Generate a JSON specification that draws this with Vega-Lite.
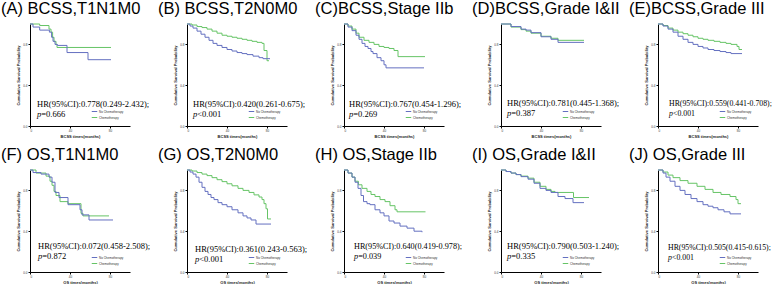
{
"$schema":"https://vega.github.io/schema/vega-lite/v6.json",
"background":"white",
"padding":{"left":1,"top":0,"right":2,"bottom":0},
"bounds":"flush",
"columns":5,
"spacing":{"column":57,"row":44},
"resolve":{"legend":{"color":"independent"}},
"datasets":{
"stats":[
{"p":"A","hr":"HR(95%CI):0.778(0.249-2.432);","pv":"=0.666"},
{"p":"B","hr":"HR(95%CI):0.420(0.261-0.675);","pv":"<0.001"},
{"p":"C","hr":"HR(95%CI):0.767(0.454-1.296);","pv":"=0.269"},
{"p":"D","hr":"HR(95%CI):0.781(0.445-1.368);","pv":"=0.387"},
{"p":"E","hr":"HR(95%CI):0.559(0.441-0.708);","pv":"<0.001"},
{"p":"F","hr":"HR(95%CI):0.072(0.458-2.508);","pv":"=0.872"},
{"p":"G","hr":"HR(95%CI):0.361(0.243-0.563);","pv":"<0.001"},
{"p":"H","hr":"HR(95%CI):0.640(0.419-0.978);","pv":"=0.039"},
{"p":"I","hr":"HR(95%CI):0.790(0.503-1.240);","pv":"=0.335"},
{"p":"J","hr":"HR(95%CI):0.505(0.415-0.615);","pv":"<0.001"}
],
"km":[
{"p":"A","g":"Chemotherapy","t":0,"s":1},{"p":"A","g":"Chemotherapy","t":9.7,"s":0.985},{"p":"A","g":"Chemotherapy","t":19,"s":0.95},{"p":"A","g":"Chemotherapy","t":21,"s":0.92},{"p":"A","g":"Chemotherapy","t":22.6,"s":0.87},{"p":"A","g":"Chemotherapy","t":24,"s":0.83},{"p":"A","g":"Chemotherapy","t":26,"s":0.8},{"p":"A","g":"Chemotherapy","t":27,"s":0.77},{"p":"A","g":"Chemotherapy","t":81,"s":0.77},
{"p":"A","g":"No Chemotherapy","t":0,"s":1},{"p":"A","g":"No Chemotherapy","t":3,"s":0.97},{"p":"A","g":"No Chemotherapy","t":9.7,"s":0.94},{"p":"A","g":"No Chemotherapy","t":19.4,"s":0.92},{"p":"A","g":"No Chemotherapy","t":21.6,"s":0.87},{"p":"A","g":"No Chemotherapy","t":23,"s":0.83},{"p":"A","g":"No Chemotherapy","t":25,"s":0.8},{"p":"A","g":"No Chemotherapy","t":27.4,"s":0.79},{"p":"A","g":"No Chemotherapy","t":37,"s":0.72},{"p":"A","g":"No Chemotherapy","t":58,"s":0.65},{"p":"A","g":"No Chemotherapy","t":81,"s":0.65},

{"p":"B","g":"Chemotherapy","t":0,"s":1},{"p":"B","g":"Chemotherapy","t":5,"s":0.99},{"p":"B","g":"Chemotherapy","t":10,"s":0.975},{"p":"B","g":"Chemotherapy","t":15,"s":0.965},{"p":"B","g":"Chemotherapy","t":20,"s":0.95},{"p":"B","g":"Chemotherapy","t":25,"s":0.93},{"p":"B","g":"Chemotherapy","t":30,"s":0.91},{"p":"B","g":"Chemotherapy","t":35,"s":0.89},{"p":"B","g":"Chemotherapy","t":40,"s":0.88},{"p":"B","g":"Chemotherapy","t":45,"s":0.87},{"p":"B","g":"Chemotherapy","t":50,"s":0.86},{"p":"B","g":"Chemotherapy","t":55,"s":0.85},{"p":"B","g":"Chemotherapy","t":60,"s":0.84},{"p":"B","g":"Chemotherapy","t":65,"s":0.83},{"p":"B","g":"Chemotherapy","t":70,"s":0.82},{"p":"B","g":"Chemotherapy","t":75,"s":0.81},{"p":"B","g":"Chemotherapy","t":77,"s":0.74},{"p":"B","g":"Chemotherapy","t":80,"s":0.64},{"p":"B","g":"Chemotherapy","t":82,"s":0.64},
{"p":"B","g":"No Chemotherapy","t":0,"s":1},{"p":"B","g":"No Chemotherapy","t":3,"s":0.98},{"p":"B","g":"No Chemotherapy","t":6,"s":0.96},{"p":"B","g":"No Chemotherapy","t":10,"s":0.93},{"p":"B","g":"No Chemotherapy","t":14,"s":0.9},{"p":"B","g":"No Chemotherapy","t":18,"s":0.87},{"p":"B","g":"No Chemotherapy","t":22,"s":0.84},{"p":"B","g":"No Chemotherapy","t":26,"s":0.81},{"p":"B","g":"No Chemotherapy","t":30,"s":0.79},{"p":"B","g":"No Chemotherapy","t":35,"s":0.77},{"p":"B","g":"No Chemotherapy","t":40,"s":0.75},{"p":"B","g":"No Chemotherapy","t":45,"s":0.735},{"p":"B","g":"No Chemotherapy","t":50,"s":0.72},{"p":"B","g":"No Chemotherapy","t":55,"s":0.71},{"p":"B","g":"No Chemotherapy","t":60,"s":0.7},{"p":"B","g":"No Chemotherapy","t":66,"s":0.685},{"p":"B","g":"No Chemotherapy","t":72,"s":0.67},{"p":"B","g":"No Chemotherapy","t":76,"s":0.66},{"p":"B","g":"No Chemotherapy","t":83,"s":0.66},

{"p":"C","g":"Chemotherapy","t":0,"s":1},{"p":"C","g":"Chemotherapy","t":4,"s":0.98},{"p":"C","g":"Chemotherapy","t":8,"s":0.95},{"p":"C","g":"Chemotherapy","t":12,"s":0.91},{"p":"C","g":"Chemotherapy","t":15,"s":0.87},{"p":"C","g":"Chemotherapy","t":20,"s":0.84},{"p":"C","g":"Chemotherapy","t":25,"s":0.82},{"p":"C","g":"Chemotherapy","t":30,"s":0.8},{"p":"C","g":"Chemotherapy","t":35,"s":0.78},{"p":"C","g":"Chemotherapy","t":40,"s":0.77},{"p":"C","g":"Chemotherapy","t":45,"s":0.76},{"p":"C","g":"Chemotherapy","t":50,"s":0.74},{"p":"C","g":"Chemotherapy","t":54,"s":0.68},{"p":"C","g":"Chemotherapy","t":81,"s":0.68},
{"p":"C","g":"No Chemotherapy","t":0,"s":1},{"p":"C","g":"No Chemotherapy","t":4,"s":0.97},{"p":"C","g":"No Chemotherapy","t":8,"s":0.935},{"p":"C","g":"No Chemotherapy","t":12,"s":0.89},{"p":"C","g":"No Chemotherapy","t":15,"s":0.85},{"p":"C","g":"No Chemotherapy","t":18,"s":0.81},{"p":"C","g":"No Chemotherapy","t":21,"s":0.78},{"p":"C","g":"No Chemotherapy","t":24,"s":0.76},{"p":"C","g":"No Chemotherapy","t":27,"s":0.73},{"p":"C","g":"No Chemotherapy","t":29,"s":0.71},{"p":"C","g":"No Chemotherapy","t":33,"s":0.67},{"p":"C","g":"No Chemotherapy","t":37,"s":0.64},{"p":"C","g":"No Chemotherapy","t":40,"s":0.6},{"p":"C","g":"No Chemotherapy","t":42,"s":0.57},{"p":"C","g":"No Chemotherapy","t":80,"s":0.57},

{"p":"D","g":"Chemotherapy","t":0,"s":1},{"p":"D","g":"Chemotherapy","t":10,"s":0.97},{"p":"D","g":"Chemotherapy","t":20,"s":0.945},{"p":"D","g":"Chemotherapy","t":25,"s":0.93},{"p":"D","g":"Chemotherapy","t":30,"s":0.91},{"p":"D","g":"Chemotherapy","t":40,"s":0.88},{"p":"D","g":"Chemotherapy","t":50,"s":0.86},{"p":"D","g":"Chemotherapy","t":57,"s":0.84},{"p":"D","g":"Chemotherapy","t":83,"s":0.84},
{"p":"D","g":"No Chemotherapy","t":0,"s":1},{"p":"D","g":"No Chemotherapy","t":10,"s":0.975},{"p":"D","g":"No Chemotherapy","t":20,"s":0.95},{"p":"D","g":"No Chemotherapy","t":25,"s":0.94},{"p":"D","g":"No Chemotherapy","t":30,"s":0.915},{"p":"D","g":"No Chemotherapy","t":40,"s":0.875},{"p":"D","g":"No Chemotherapy","t":50,"s":0.85},{"p":"D","g":"No Chemotherapy","t":57,"s":0.82},{"p":"D","g":"No Chemotherapy","t":83,"s":0.82},

{"p":"E","g":"Chemotherapy","t":0,"s":1},{"p":"E","g":"Chemotherapy","t":5,"s":0.985},{"p":"E","g":"Chemotherapy","t":10,"s":0.96},{"p":"E","g":"Chemotherapy","t":15,"s":0.94},{"p":"E","g":"Chemotherapy","t":20,"s":0.92},{"p":"E","g":"Chemotherapy","t":25,"s":0.905},{"p":"E","g":"Chemotherapy","t":30,"s":0.89},{"p":"E","g":"Chemotherapy","t":35,"s":0.875},{"p":"E","g":"Chemotherapy","t":40,"s":0.86},{"p":"E","g":"Chemotherapy","t":45,"s":0.85},{"p":"E","g":"Chemotherapy","t":50,"s":0.84},{"p":"E","g":"Chemotherapy","t":56,"s":0.83},{"p":"E","g":"Chemotherapy","t":62,"s":0.82},{"p":"E","g":"Chemotherapy","t":68,"s":0.81},{"p":"E","g":"Chemotherapy","t":73,"s":0.8},{"p":"E","g":"Chemotherapy","t":79,"s":0.78},{"p":"E","g":"Chemotherapy","t":81,"s":0.75},{"p":"E","g":"Chemotherapy","t":84,"s":0.75},
{"p":"E","g":"No Chemotherapy","t":0,"s":1},{"p":"E","g":"No Chemotherapy","t":5,"s":0.98},{"p":"E","g":"No Chemotherapy","t":10,"s":0.95},{"p":"E","g":"No Chemotherapy","t":15,"s":0.92},{"p":"E","g":"No Chemotherapy","t":20,"s":0.88},{"p":"E","g":"No Chemotherapy","t":25,"s":0.85},{"p":"E","g":"No Chemotherapy","t":30,"s":0.82},{"p":"E","g":"No Chemotherapy","t":35,"s":0.8},{"p":"E","g":"No Chemotherapy","t":40,"s":0.78},{"p":"E","g":"No Chemotherapy","t":45,"s":0.765},{"p":"E","g":"No Chemotherapy","t":50,"s":0.75},{"p":"E","g":"No Chemotherapy","t":56,"s":0.74},{"p":"E","g":"No Chemotherapy","t":62,"s":0.73},{"p":"E","g":"No Chemotherapy","t":68,"s":0.72},{"p":"E","g":"No Chemotherapy","t":73,"s":0.71},{"p":"E","g":"No Chemotherapy","t":84,"s":0.71},

{"p":"F","g":"Chemotherapy","t":0,"s":1},{"p":"F","g":"Chemotherapy","t":6,"s":0.97},{"p":"F","g":"Chemotherapy","t":16,"s":0.94},{"p":"F","g":"Chemotherapy","t":20,"s":0.89},{"p":"F","g":"Chemotherapy","t":22,"s":0.85},{"p":"F","g":"Chemotherapy","t":24,"s":0.79},{"p":"F","g":"Chemotherapy","t":26,"s":0.75},{"p":"F","g":"Chemotherapy","t":30,"s":0.69},{"p":"F","g":"Chemotherapy","t":38,"s":0.67},{"p":"F","g":"Chemotherapy","t":51,"s":0.575},{"p":"F","g":"Chemotherapy","t":53,"s":0.55},{"p":"F","g":"Chemotherapy","t":79,"s":0.55},
{"p":"F","g":"No Chemotherapy","t":0,"s":1},{"p":"F","g":"No Chemotherapy","t":3,"s":0.975},{"p":"F","g":"No Chemotherapy","t":11,"s":0.96},{"p":"F","g":"No Chemotherapy","t":19,"s":0.93},{"p":"F","g":"No Chemotherapy","t":22,"s":0.88},{"p":"F","g":"No Chemotherapy","t":25,"s":0.78},{"p":"F","g":"No Chemotherapy","t":29,"s":0.73},{"p":"F","g":"No Chemotherapy","t":38,"s":0.66},{"p":"F","g":"No Chemotherapy","t":50,"s":0.61},{"p":"F","g":"No Chemotherapy","t":52,"s":0.56},{"p":"F","g":"No Chemotherapy","t":59,"s":0.51},{"p":"F","g":"No Chemotherapy","t":83,"s":0.51},

{"p":"G","g":"Chemotherapy","t":0,"s":1},{"p":"G","g":"Chemotherapy","t":5,"s":0.99},{"p":"G","g":"Chemotherapy","t":10,"s":0.975},{"p":"G","g":"Chemotherapy","t":15,"s":0.96},{"p":"G","g":"Chemotherapy","t":20,"s":0.945},{"p":"G","g":"Chemotherapy","t":25,"s":0.925},{"p":"G","g":"Chemotherapy","t":30,"s":0.905},{"p":"G","g":"Chemotherapy","t":35,"s":0.886},{"p":"G","g":"Chemotherapy","t":40,"s":0.865},{"p":"G","g":"Chemotherapy","t":45,"s":0.845},{"p":"G","g":"Chemotherapy","t":51,"s":0.82},{"p":"G","g":"Chemotherapy","t":56,"s":0.8},{"p":"G","g":"Chemotherapy","t":62,"s":0.78},{"p":"G","g":"Chemotherapy","t":67,"s":0.756},{"p":"G","g":"Chemotherapy","t":72,"s":0.735},{"p":"G","g":"Chemotherapy","t":75,"s":0.71},{"p":"G","g":"Chemotherapy","t":77,"s":0.67},{"p":"G","g":"Chemotherapy","t":79,"s":0.62},{"p":"G","g":"Chemotherapy","t":80.5,"s":0.52},{"p":"G","g":"Chemotherapy","t":84,"s":0.52},
{"p":"G","g":"No Chemotherapy","t":0,"s":1},{"p":"G","g":"No Chemotherapy","t":3,"s":0.98},{"p":"G","g":"No Chemotherapy","t":6,"s":0.96},{"p":"G","g":"No Chemotherapy","t":9,"s":0.93},{"p":"G","g":"No Chemotherapy","t":12,"s":0.88},{"p":"G","g":"No Chemotherapy","t":15,"s":0.83},{"p":"G","g":"No Chemotherapy","t":18,"s":0.79},{"p":"G","g":"No Chemotherapy","t":21,"s":0.76},{"p":"G","g":"No Chemotherapy","t":24,"s":0.73},{"p":"G","g":"No Chemotherapy","t":27,"s":0.71},{"p":"G","g":"No Chemotherapy","t":31,"s":0.68},{"p":"G","g":"No Chemotherapy","t":35,"s":0.66},{"p":"G","g":"No Chemotherapy","t":40,"s":0.64},{"p":"G","g":"No Chemotherapy","t":45,"s":0.61},{"p":"G","g":"No Chemotherapy","t":51,"s":0.58},{"p":"G","g":"No Chemotherapy","t":56,"s":0.55},{"p":"G","g":"No Chemotherapy","t":60,"s":0.53},{"p":"G","g":"No Chemotherapy","t":64,"s":0.51},{"p":"G","g":"No Chemotherapy","t":69,"s":0.47},{"p":"G","g":"No Chemotherapy","t":84,"s":0.47},

{"p":"H","g":"Chemotherapy","t":0,"s":1},{"p":"H","g":"Chemotherapy","t":4,"s":0.97},{"p":"H","g":"Chemotherapy","t":8,"s":0.93},{"p":"H","g":"Chemotherapy","t":11,"s":0.89},{"p":"H","g":"Chemotherapy","t":14.4,"s":0.855},{"p":"H","g":"Chemotherapy","t":18,"s":0.82},{"p":"H","g":"Chemotherapy","t":23,"s":0.79},{"p":"H","g":"Chemotherapy","t":27,"s":0.76},{"p":"H","g":"Chemotherapy","t":31,"s":0.74},{"p":"H","g":"Chemotherapy","t":36,"s":0.71},{"p":"H","g":"Chemotherapy","t":41,"s":0.69},{"p":"H","g":"Chemotherapy","t":46,"s":0.65},{"p":"H","g":"Chemotherapy","t":51,"s":0.61},{"p":"H","g":"Chemotherapy","t":53,"s":0.59},{"p":"H","g":"Chemotherapy","t":81.5,"s":0.59},
{"p":"H","g":"No Chemotherapy","t":0,"s":1},{"p":"H","g":"No Chemotherapy","t":4,"s":0.97},{"p":"H","g":"No Chemotherapy","t":8,"s":0.93},{"p":"H","g":"No Chemotherapy","t":11,"s":0.88},{"p":"H","g":"No Chemotherapy","t":14,"s":0.82},{"p":"H","g":"No Chemotherapy","t":17,"s":0.75},{"p":"H","g":"No Chemotherapy","t":19.5,"s":0.69},{"p":"H","g":"No Chemotherapy","t":23,"s":0.67},{"p":"H","g":"No Chemotherapy","t":26,"s":0.66},{"p":"H","g":"No Chemotherapy","t":31,"s":0.61},{"p":"H","g":"No Chemotherapy","t":36,"s":0.58},{"p":"H","g":"No Chemotherapy","t":40,"s":0.55},{"p":"H","g":"No Chemotherapy","t":45,"s":0.5},{"p":"H","g":"No Chemotherapy","t":50,"s":0.48},{"p":"H","g":"No Chemotherapy","t":56,"s":0.45},{"p":"H","g":"No Chemotherapy","t":63,"s":0.43},{"p":"H","g":"No Chemotherapy","t":70,"s":0.4},{"p":"H","g":"No Chemotherapy","t":78,"s":0.39},

{"p":"I","g":"Chemotherapy","t":0,"s":1},{"p":"I","g":"Chemotherapy","t":5,"s":0.985},{"p":"I","g":"Chemotherapy","t":10,"s":0.97},{"p":"I","g":"Chemotherapy","t":15,"s":0.955},{"p":"I","g":"Chemotherapy","t":20,"s":0.94},{"p":"I","g":"Chemotherapy","t":27,"s":0.92},{"p":"I","g":"Chemotherapy","t":33,"s":0.88},{"p":"I","g":"Chemotherapy","t":39,"s":0.84},{"p":"I","g":"Chemotherapy","t":45,"s":0.81},{"p":"I","g":"Chemotherapy","t":50,"s":0.79},{"p":"I","g":"Chemotherapy","t":54,"s":0.78},{"p":"I","g":"Chemotherapy","t":72,"s":0.78},{"p":"I","g":"Chemotherapy","t":72.5,"s":0.73},{"p":"I","g":"Chemotherapy","t":88,"s":0.73},
{"p":"I","g":"No Chemotherapy","t":0,"s":1},{"p":"I","g":"No Chemotherapy","t":5,"s":0.985},{"p":"I","g":"No Chemotherapy","t":10,"s":0.97},{"p":"I","g":"No Chemotherapy","t":15,"s":0.955},{"p":"I","g":"No Chemotherapy","t":20,"s":0.935},{"p":"I","g":"No Chemotherapy","t":27,"s":0.91},{"p":"I","g":"No Chemotherapy","t":33,"s":0.87},{"p":"I","g":"No Chemotherapy","t":39,"s":0.82},{"p":"I","g":"No Chemotherapy","t":45,"s":0.8},{"p":"I","g":"No Chemotherapy","t":50,"s":0.78},{"p":"I","g":"No Chemotherapy","t":57,"s":0.74},{"p":"I","g":"No Chemotherapy","t":64,"s":0.72},{"p":"I","g":"No Chemotherapy","t":72,"s":0.68},{"p":"I","g":"No Chemotherapy","t":83,"s":0.68},

{"p":"J","g":"Chemotherapy","t":0,"s":1},{"p":"J","g":"Chemotherapy","t":5,"s":0.98},{"p":"J","g":"Chemotherapy","t":10,"s":0.95},{"p":"J","g":"Chemotherapy","t":15,"s":0.925},{"p":"J","g":"Chemotherapy","t":22,"s":0.896},{"p":"J","g":"Chemotherapy","t":30,"s":0.87},{"p":"J","g":"Chemotherapy","t":39,"s":0.84},{"p":"J","g":"Chemotherapy","t":47,"s":0.81},{"p":"J","g":"Chemotherapy","t":55,"s":0.78},{"p":"J","g":"Chemotherapy","t":63,"s":0.76},{"p":"J","g":"Chemotherapy","t":72,"s":0.74},{"p":"J","g":"Chemotherapy","t":78,"s":0.71},{"p":"J","g":"Chemotherapy","t":80,"s":0.67},{"p":"J","g":"Chemotherapy","t":83,"s":0.67},
{"p":"J","g":"No Chemotherapy","t":0,"s":1},{"p":"J","g":"No Chemotherapy","t":5,"s":0.97},{"p":"J","g":"No Chemotherapy","t":8,"s":0.93},{"p":"J","g":"No Chemotherapy","t":12,"s":0.89},{"p":"J","g":"No Chemotherapy","t":17,"s":0.84},{"p":"J","g":"No Chemotherapy","t":22,"s":0.8},{"p":"J","g":"No Chemotherapy","t":27,"s":0.76},{"p":"J","g":"No Chemotherapy","t":33,"s":0.72},{"p":"J","g":"No Chemotherapy","t":39,"s":0.69},{"p":"J","g":"No Chemotherapy","t":45,"s":0.66},{"p":"J","g":"No Chemotherapy","t":50,"s":0.645},{"p":"J","g":"No Chemotherapy","t":55,"s":0.63},{"p":"J","g":"No Chemotherapy","t":60,"s":0.61},{"p":"J","g":"No Chemotherapy","t":66,"s":0.59},{"p":"J","g":"No Chemotherapy","t":72,"s":0.57},{"p":"J","g":"No Chemotherapy","t":83,"s":0.57}
]},
"concat":[
{"title":"(A) BCSS,T1N1M0","width":100,"height":102,"layer":[
 {"data":{"name":"km"},"transform":[{"filter":"datum.p==='A'"}],"mark":{"type":"line","interpolate":"step-after","strokeWidth":1},"encoding":{"x":{"field":"t","type":"quantitative","scale":{"domain":[0,100]},"axis":{"title":"BCSS times(months)","values":[0,20,40,60,80,100]}},"y":{"field":"s","type":"quantitative","scale":{"domain":[0,1]},"axis":{"title":"Cumulative Survival Probability","values":[0,0.2,0.4,0.6,0.8,1],"format":".1f"}},"color":{"field":"g","type":"nominal","scale":{"domain":["No Chemotherapy","Chemotherapy"],"range":["#6470c0","#66c466"]},"legend":{"title":null,"orient":"bottom-right","offset":5}}}},
 {"data":{"name":"stats"},"transform":[{"filter":"datum.p==='A'"}],"mark":{"type":"text","font":"Liberation Serif","fontSize":8.5,"align":"left","baseline":"alphabetic"},"encoding":{"x":{"datum":7},"y":{"datum":0.19},"text":{"field":"hr"}}},
 {"data":{"name":"stats"},"transform":[{"filter":"datum.p==='A'"}],"mark":{"type":"text","font":"Liberation Serif","fontSize":8.5,"fontStyle":"italic","align":"left","baseline":"alphabetic"},"encoding":{"x":{"datum":7},"y":{"datum":0.09},"text":{"value":"p"}}},
 {"data":{"name":"stats"},"transform":[{"filter":"datum.p==='A'"}],"mark":{"type":"text","font":"Liberation Serif","fontSize":8.5,"align":"left","baseline":"alphabetic","dx":4.3},"encoding":{"x":{"datum":7},"y":{"datum":0.09},"text":{"field":"pv"}}}
]},
{"title":"(B) BCSS,T2N0M0","width":100,"height":102,"layer":[
 {"data":{"name":"km"},"transform":[{"filter":"datum.p==='B'"}],"mark":{"type":"line","interpolate":"step-after","strokeWidth":1},"encoding":{"x":{"field":"t","type":"quantitative","scale":{"domain":[0,100]},"axis":{"title":"BCSS times(months)","values":[0,20,40,60,80,100]}},"y":{"field":"s","type":"quantitative","scale":{"domain":[0,1]},"axis":{"title":"Cumulative Survival Probability","values":[0,0.2,0.4,0.6,0.8,1],"format":".1f"}},"color":{"field":"g","type":"nominal","scale":{"domain":["No Chemotherapy","Chemotherapy"],"range":["#6470c0","#66c466"]},"legend":{"title":null,"orient":"bottom-right","offset":5}}}},
 {"data":{"name":"stats"},"transform":[{"filter":"datum.p==='B'"}],"mark":{"type":"text","font":"Liberation Serif","fontSize":8.5,"align":"left","baseline":"alphabetic"},"encoding":{"x":{"datum":6},"y":{"datum":0.19},"text":{"field":"hr"}}},
 {"data":{"name":"stats"},"transform":[{"filter":"datum.p==='B'"}],"mark":{"type":"text","font":"Liberation Serif","fontSize":8.5,"fontStyle":"italic","align":"left","baseline":"alphabetic"},"encoding":{"x":{"datum":6},"y":{"datum":0.09},"text":{"value":"p"}}},
 {"data":{"name":"stats"},"transform":[{"filter":"datum.p==='B'"}],"mark":{"type":"text","font":"Liberation Serif","fontSize":8.5,"align":"left","baseline":"alphabetic","dx":4.3},"encoding":{"x":{"datum":6},"y":{"datum":0.09},"text":{"field":"pv"}}}
]},
{"title":"(C)BCSS,Stage IIb","width":100,"height":102,"layer":[
 {"data":{"name":"km"},"transform":[{"filter":"datum.p==='C'"}],"mark":{"type":"line","interpolate":"step-after","strokeWidth":1},"encoding":{"x":{"field":"t","type":"quantitative","scale":{"domain":[0,100]},"axis":{"title":"BCSS times(months)","values":[0,20,40,60,80,100]}},"y":{"field":"s","type":"quantitative","scale":{"domain":[0,1]},"axis":{"title":"Cumulative Survival Probability","values":[0,0.2,0.4,0.6,0.8,1],"format":".1f"}},"color":{"field":"g","type":"nominal","scale":{"domain":["No Chemotherapy","Chemotherapy"],"range":["#6470c0","#66c466"]},"legend":{"title":null,"orient":"bottom-right","offset":5}}}},
 {"data":{"name":"stats"},"transform":[{"filter":"datum.p==='C'"}],"mark":{"type":"text","font":"Liberation Serif","fontSize":8.5,"align":"left","baseline":"alphabetic"},"encoding":{"x":{"datum":5},"y":{"datum":0.19},"text":{"field":"hr"}}},
 {"data":{"name":"stats"},"transform":[{"filter":"datum.p==='C'"}],"mark":{"type":"text","font":"Liberation Serif","fontSize":8.5,"fontStyle":"italic","align":"left","baseline":"alphabetic"},"encoding":{"x":{"datum":5},"y":{"datum":0.09},"text":{"value":"p"}}},
 {"data":{"name":"stats"},"transform":[{"filter":"datum.p==='C'"}],"mark":{"type":"text","font":"Liberation Serif","fontSize":8.5,"align":"left","baseline":"alphabetic","dx":4.3},"encoding":{"x":{"datum":5},"y":{"datum":0.09},"text":{"field":"pv"}}}
]},
{"title":"(D)BCSS,Grade I&II","width":100,"height":102,"layer":[
 {"data":{"name":"km"},"transform":[{"filter":"datum.p==='D'"}],"mark":{"type":"line","interpolate":"step-after","strokeWidth":1},"encoding":{"x":{"field":"t","type":"quantitative","scale":{"domain":[0,100]},"axis":{"title":"BCSS times(months)","values":[0,20,40,60,80,100]}},"y":{"field":"s","type":"quantitative","scale":{"domain":[0,1]},"axis":{"title":"Cumulative Survival Probability","values":[0,0.2,0.4,0.6,0.8,1],"format":".1f"}},"color":{"field":"g","type":"nominal","scale":{"domain":["No Chemotherapy","Chemotherapy"],"range":["#6470c0","#66c466"]},"legend":{"title":null,"orient":"bottom-right","offset":5}}}},
 {"data":{"name":"stats"},"transform":[{"filter":"datum.p==='D'"}],"mark":{"type":"text","font":"Liberation Serif","fontSize":8.5,"align":"left","baseline":"alphabetic"},"encoding":{"x":{"datum":6},"y":{"datum":0.2},"text":{"field":"hr"}}},
 {"data":{"name":"stats"},"transform":[{"filter":"datum.p==='D'"}],"mark":{"type":"text","font":"Liberation Serif","fontSize":8.5,"fontStyle":"italic","align":"left","baseline":"alphabetic"},"encoding":{"x":{"datum":6},"y":{"datum":0.1},"text":{"value":"p"}}},
 {"data":{"name":"stats"},"transform":[{"filter":"datum.p==='D'"}],"mark":{"type":"text","font":"Liberation Serif","fontSize":8.5,"align":"left","baseline":"alphabetic","dx":4.3},"encoding":{"x":{"datum":6},"y":{"datum":0.1},"text":{"field":"pv"}}}
]},
{"title":"(E)BCSS,Grade III","width":100,"height":102,"layer":[
 {"data":{"name":"km"},"transform":[{"filter":"datum.p==='E'"}],"mark":{"type":"line","interpolate":"step-after","strokeWidth":1},"encoding":{"x":{"field":"t","type":"quantitative","scale":{"domain":[0,100]},"axis":{"title":"BCSS times(months)","values":[0,20,40,60,80,100]}},"y":{"field":"s","type":"quantitative","scale":{"domain":[0,1]},"axis":{"title":"Cumulative Survival Probability","values":[0,0.2,0.4,0.6,0.8,1],"format":".1f"}},"color":{"field":"g","type":"nominal","scale":{"domain":["No Chemotherapy","Chemotherapy"],"range":["#6470c0","#66c466"]},"legend":{"title":null,"orient":"bottom-right","offset":5}}}},
 {"data":{"name":"stats"},"transform":[{"filter":"datum.p==='E'"}],"mark":{"type":"text","font":"Liberation Serif","fontSize":7.8,"align":"left","baseline":"alphabetic"},"encoding":{"x":{"datum":11},"y":{"datum":0.2},"text":{"field":"hr"}}},
 {"data":{"name":"stats"},"transform":[{"filter":"datum.p==='E'"}],"mark":{"type":"text","font":"Liberation Serif","fontSize":7.8,"fontStyle":"italic","align":"left","baseline":"alphabetic"},"encoding":{"x":{"datum":11},"y":{"datum":0.1},"text":{"value":"p"}}},
 {"data":{"name":"stats"},"transform":[{"filter":"datum.p==='E'"}],"mark":{"type":"text","font":"Liberation Serif","fontSize":7.8,"align":"left","baseline":"alphabetic","dx":4},"encoding":{"x":{"datum":11},"y":{"datum":0.1},"text":{"field":"pv"}}}
]},
{"title":"(F) OS,T1N1M0","width":100,"height":102,"layer":[
 {"data":{"name":"km"},"transform":[{"filter":"datum.p==='F'"}],"mark":{"type":"line","interpolate":"step-after","strokeWidth":1},"encoding":{"x":{"field":"t","type":"quantitative","scale":{"domain":[0,100]},"axis":{"title":"OS times(months)","values":[0,20,40,60,80,100]}},"y":{"field":"s","type":"quantitative","scale":{"domain":[0,1]},"axis":{"title":"Cumulative Survival Probability","values":[0,0.2,0.4,0.6,0.8,1],"format":".1f"}},"color":{"field":"g","type":"nominal","scale":{"domain":["No Chemotherapy","Chemotherapy"],"range":["#6470c0","#66c466"]},"legend":{"title":null,"orient":"bottom-right","offset":5}}}},
 {"data":{"name":"stats"},"transform":[{"filter":"datum.p==='F'"}],"mark":{"type":"text","font":"Liberation Serif","fontSize":8.5,"align":"left","baseline":"alphabetic"},"encoding":{"x":{"datum":8},"y":{"datum":0.23},"text":{"field":"hr"}}},
 {"data":{"name":"stats"},"transform":[{"filter":"datum.p==='F'"}],"mark":{"type":"text","font":"Liberation Serif","fontSize":8.5,"fontStyle":"italic","align":"left","baseline":"alphabetic"},"encoding":{"x":{"datum":8},"y":{"datum":0.13},"text":{"value":"p"}}},
 {"data":{"name":"stats"},"transform":[{"filter":"datum.p==='F'"}],"mark":{"type":"text","font":"Liberation Serif","fontSize":8.5,"align":"left","baseline":"alphabetic","dx":4.3},"encoding":{"x":{"datum":8},"y":{"datum":0.13},"text":{"field":"pv"}}}
]},
{"title":"(G) OS,T2N0M0","width":100,"height":102,"layer":[
 {"data":{"name":"km"},"transform":[{"filter":"datum.p==='G'"}],"mark":{"type":"line","interpolate":"step-after","strokeWidth":1},"encoding":{"x":{"field":"t","type":"quantitative","scale":{"domain":[0,100]},"axis":{"title":"OS times(months)","values":[0,20,40,60,80,100]}},"y":{"field":"s","type":"quantitative","scale":{"domain":[0,1]},"axis":{"title":"Cumulative Survival Probability","values":[0,0.2,0.4,0.6,0.8,1],"format":".1f"}},"color":{"field":"g","type":"nominal","scale":{"domain":["No Chemotherapy","Chemotherapy"],"range":["#6470c0","#66c466"]},"legend":{"title":null,"orient":"bottom-right","offset":5}}}},
 {"data":{"name":"stats"},"transform":[{"filter":"datum.p==='G'"}],"mark":{"type":"text","font":"Liberation Serif","fontSize":8.5,"align":"left","baseline":"alphabetic"},"encoding":{"x":{"datum":8},"y":{"datum":0.2},"text":{"field":"hr"}}},
 {"data":{"name":"stats"},"transform":[{"filter":"datum.p==='G'"}],"mark":{"type":"text","font":"Liberation Serif","fontSize":8.5,"fontStyle":"italic","align":"left","baseline":"alphabetic"},"encoding":{"x":{"datum":8},"y":{"datum":0.1},"text":{"value":"p"}}},
 {"data":{"name":"stats"},"transform":[{"filter":"datum.p==='G'"}],"mark":{"type":"text","font":"Liberation Serif","fontSize":8.5,"align":"left","baseline":"alphabetic","dx":4.3},"encoding":{"x":{"datum":8},"y":{"datum":0.1},"text":{"field":"pv"}}}
]},
{"title":"(H) OS,Stage IIb","width":100,"height":102,"layer":[
 {"data":{"name":"km"},"transform":[{"filter":"datum.p==='H'"}],"mark":{"type":"line","interpolate":"step-after","strokeWidth":1},"encoding":{"x":{"field":"t","type":"quantitative","scale":{"domain":[0,100]},"axis":{"title":"OS times(months)","values":[0,20,40,60,80,100]}},"y":{"field":"s","type":"quantitative","scale":{"domain":[0,1]},"axis":{"title":"Cumulative Survival Probability","values":[0,0.2,0.4,0.6,0.8,1],"format":".1f"}},"color":{"field":"g","type":"nominal","scale":{"domain":["No Chemotherapy","Chemotherapy"],"range":["#6470c0","#66c466"]},"legend":{"title":null,"orient":"bottom-right","offset":5}}}},
 {"data":{"name":"stats"},"transform":[{"filter":"datum.p==='H'"}],"mark":{"type":"text","font":"Liberation Serif","fontSize":8.2,"align":"left","baseline":"alphabetic"},"encoding":{"x":{"datum":10},"y":{"datum":0.23},"text":{"field":"hr"}}},
 {"data":{"name":"stats"},"transform":[{"filter":"datum.p==='H'"}],"mark":{"type":"text","font":"Liberation Serif","fontSize":8.2,"fontStyle":"italic","align":"left","baseline":"alphabetic"},"encoding":{"x":{"datum":10},"y":{"datum":0.13},"text":{"value":"p"}}},
 {"data":{"name":"stats"},"transform":[{"filter":"datum.p==='H'"}],"mark":{"type":"text","font":"Liberation Serif","fontSize":8.2,"align":"left","baseline":"alphabetic","dx":4.2},"encoding":{"x":{"datum":10},"y":{"datum":0.13},"text":{"field":"pv"}}}
]},
{"title":"(I) OS,Grade I&II","width":100,"height":102,"layer":[
 {"data":{"name":"km"},"transform":[{"filter":"datum.p==='I'"}],"mark":{"type":"line","interpolate":"step-after","strokeWidth":1},"encoding":{"x":{"field":"t","type":"quantitative","scale":{"domain":[0,100]},"axis":{"title":"OS times(months)","values":[0,20,40,60,80,100]}},"y":{"field":"s","type":"quantitative","scale":{"domain":[0,1]},"axis":{"title":"Cumulative Survival Probability","values":[0,0.2,0.4,0.6,0.8,1],"format":".1f"}},"color":{"field":"g","type":"nominal","scale":{"domain":["No Chemotherapy","Chemotherapy"],"range":["#6470c0","#66c466"]},"legend":{"title":null,"orient":"bottom-right","offset":5}}}},
 {"data":{"name":"stats"},"transform":[{"filter":"datum.p==='I'"}],"mark":{"type":"text","font":"Liberation Serif","fontSize":8.5,"align":"left","baseline":"alphabetic"},"encoding":{"x":{"datum":6},"y":{"datum":0.23},"text":{"field":"hr"}}},
 {"data":{"name":"stats"},"transform":[{"filter":"datum.p==='I'"}],"mark":{"type":"text","font":"Liberation Serif","fontSize":8.5,"fontStyle":"italic","align":"left","baseline":"alphabetic"},"encoding":{"x":{"datum":6},"y":{"datum":0.13},"text":{"value":"p"}}},
 {"data":{"name":"stats"},"transform":[{"filter":"datum.p==='I'"}],"mark":{"type":"text","font":"Liberation Serif","fontSize":8.5,"align":"left","baseline":"alphabetic","dx":4.3},"encoding":{"x":{"datum":6},"y":{"datum":0.13},"text":{"field":"pv"}}}
]},
{"title":"(J) OS,Grade III","width":100,"height":102,"layer":[
 {"data":{"name":"km"},"transform":[{"filter":"datum.p==='J'"}],"mark":{"type":"line","interpolate":"step-after","strokeWidth":1},"encoding":{"x":{"field":"t","type":"quantitative","scale":{"domain":[0,100]},"axis":{"title":"OS times(months)","values":[0,20,40,60,80,100]}},"y":{"field":"s","type":"quantitative","scale":{"domain":[0,1]},"axis":{"title":"Cumulative Survival Probability","values":[0,0.2,0.4,0.6,0.8,1],"format":".1f"}},"color":{"field":"g","type":"nominal","scale":{"domain":["No Chemotherapy","Chemotherapy"],"range":["#6470c0","#66c466"]},"legend":{"title":null,"orient":"bottom-right","offset":5}}}},
 {"data":{"name":"stats"},"transform":[{"filter":"datum.p==='J'"}],"mark":{"type":"text","font":"Liberation Serif","fontSize":7.8,"align":"left","baseline":"alphabetic"},"encoding":{"x":{"datum":10},"y":{"datum":0.22},"text":{"field":"hr"}}},
 {"data":{"name":"stats"},"transform":[{"filter":"datum.p==='J'"}],"mark":{"type":"text","font":"Liberation Serif","fontSize":7.8,"fontStyle":"italic","align":"left","baseline":"alphabetic"},"encoding":{"x":{"datum":10},"y":{"datum":0.12},"text":{"value":"p"}}},
 {"data":{"name":"stats"},"transform":[{"filter":"datum.p==='J'"}],"mark":{"type":"text","font":"Liberation Serif","fontSize":7.8,"align":"left","baseline":"alphabetic","dx":4},"encoding":{"x":{"datum":10},"y":{"datum":0.12},"text":{"field":"pv"}}}
]}
],
"config":{
"view":{"stroke":null},
"font":"Liberation Sans",
"axis":{"grid":false,"domainColor":"#000","tickColor":"#000","tickSize":2,"labelFontSize":3,"labelColor":"#333","labelPadding":1,"titleFontSize":4,"titleFontWeight":"bold","titleColor":"#222","titlePadding":2},
"title":{"fontSize":16.5,"fontWeight":"normal","anchor":"start","frame":"group","dx":-29,"offset":5,"color":"#000","baseline":"alphabetic"},
"legend":{"labelFontSize":3,"symbolType":"stroke","symbolSize":30,"symbolStrokeWidth":1,"rowPadding":0,"padding":1,"labelOffset":1,"labelColor":"#333"}
}
}
